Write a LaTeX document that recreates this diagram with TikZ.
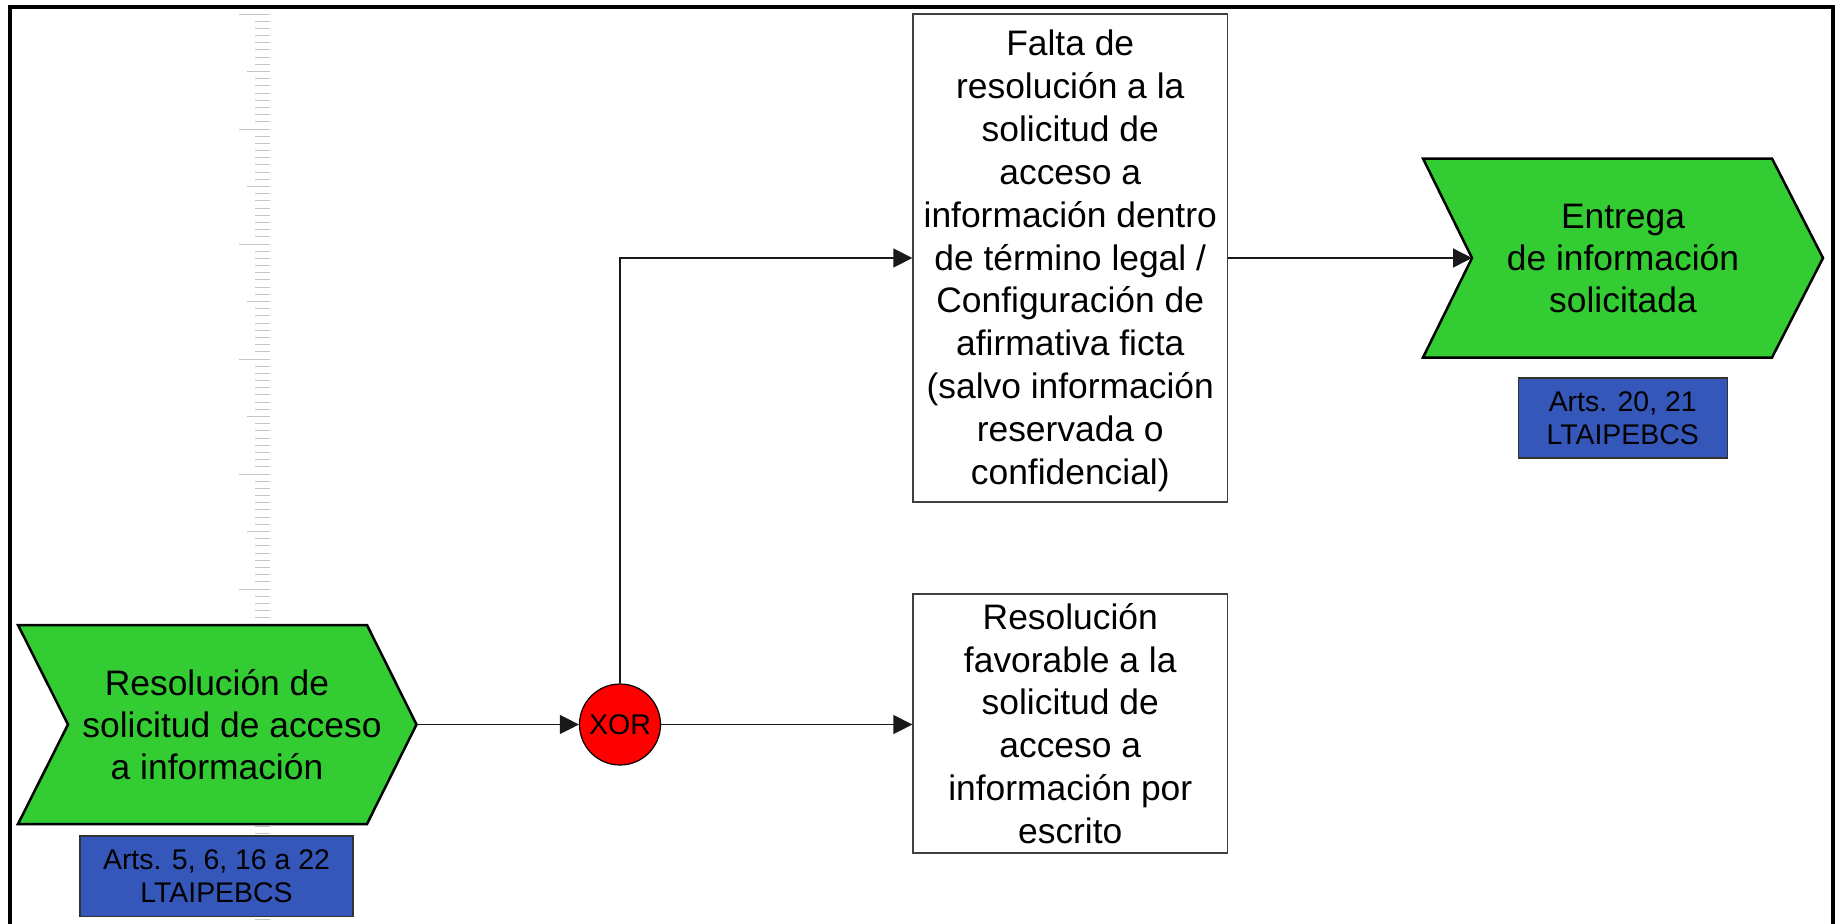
\documentclass[tikz,border=0pt]{standalone}
\usepackage{fontspec}
\setmainfont{Liberation Sans}
\usetikzlibrary{arrows.meta}
\definecolor{chevgreen}{RGB}{51,204,51}
\definecolor{lawblue}{RGB}{52,87,185}
\definecolor{gatered}{RGB}{255,0,0}
\tikzset{
  chevshape/.style={draw=black, line width=2.5pt, fill=chevgreen, line join=miter},
  chevtext/.style={align=center, inner sep=0pt, font=\fontsize{35.4}{42}\selectfont},
  stepbox/.style={draw=black!75, line width=1.3pt, fill=white, align=center, inner sep=0pt,
    minimum width=314.5pt, font=\fontsize{35.4}{42.9}\selectfont},
  lawbox/.style={draw=black!80, line width=1.2pt, fill=lawblue, align=center, inner sep=0pt,
    font=\fontsize{28.4}{33.4}\selectfont},
  gate/.style={circle, draw=black, line width=1.2pt, fill=gatered, minimum size=81pt, inner sep=0pt,
    font=\fontsize{28.5}{33}\selectfont},
  flow/.style={draw=black!90, line width=1.3pt, -{Triangle[length=19pt,width=19pt]}},
  rulertick/.style={draw=gray!45, line width=1pt},
  frameline/.style={draw=black, line width=4.5pt}
}
\begin{document}
\begin{tikzpicture}[x=1pt,y=-1pt]
\useasboundingbox (0,0) rectangle (1840,924);
\fill[white] (0,0) rectangle (1840,924);
% ruler ticks
\foreach \k in {-2,...,126}{
  \pgfmathsetmacro{\ty}{14+7.1875*\k}
  \pgfmathtruncatemacro{\ma}{mod(\k+32,16)}
  \pgfmathtruncatemacro{\mb}{mod(\k+32,8)}
  \ifnum\ma=0
    \draw[rulertick] (239,\ty) -- (270,\ty);
  \else\ifnum\mb=0
    \draw[rulertick] (247,\ty) -- (270,\ty);
  \else
    \draw[rulertick] (255,\ty) -- (270,\ty);
  \fi\fi
}
% frame
\draw[frameline] (10,930) -- (10,7) -- (1833,7) -- (1833,930);
% left chevron
\path[chevshape] (18,625) -- (367,625) -- (416.5,724.5) -- (367,824) -- (18,824) -- (68,724.5) -- cycle;
\node[chevtext] (lchev) at (217,724.5) {Resolución de\\\hspace*{30pt}solicitud de acceso\\a información};
\coordinate (ltip) at (416.5,724.5);
\node[lawbox, minimum width=273pt, minimum height=80.5pt] (llaw) at (216.5,876.25) {Arts. 5, 6, 16 a 22\\LTAIPEBCS};
% right chevron
\path[chevshape] (1423,158.5) -- (1772,158.5) -- (1823,258) -- (1772,357.5) -- (1423,357.5) -- (1472,258) -- cycle;
\node[chevtext] (rchev) at (1623,258) {Entrega\\de información\\solicitada};
\coordinate (rnotch) at (1472,258);
\node[lawbox, minimum width=209pt, minimum height=80pt] (rlaw) at (1622.7,418) {Arts. 20, 21\\LTAIPEBCS};
% gate
\node[gate] (xor) at (620,724.5) {XOR};
% boxes
\node[stepbox, minimum height=488pt] (falta) at (1070.25,258) {\rule{0pt}{31.5pt}Falta de\\resolución a la\\solicitud de\\acceso a\\información dentro\\de término legal /\\Configuración de\\afirmativa ficta\\(salvo información\\reservada o\\confidencial)};
\node[stepbox, minimum height=259pt] (fav) at (1070.25,723.5) {Resolución\\favorable a la\\solicitud de\\acceso a\\información por\\escrito};
% connectors
\draw[flow] (ltip) -- (xor);
\draw[flow] (xor.east) -- (xor.east -| fav.west);
\draw[flow] (xor.north) |- (falta.west);
\draw[flow] (falta.east) -- (rnotch);
\end{tikzpicture}
\end{document}
